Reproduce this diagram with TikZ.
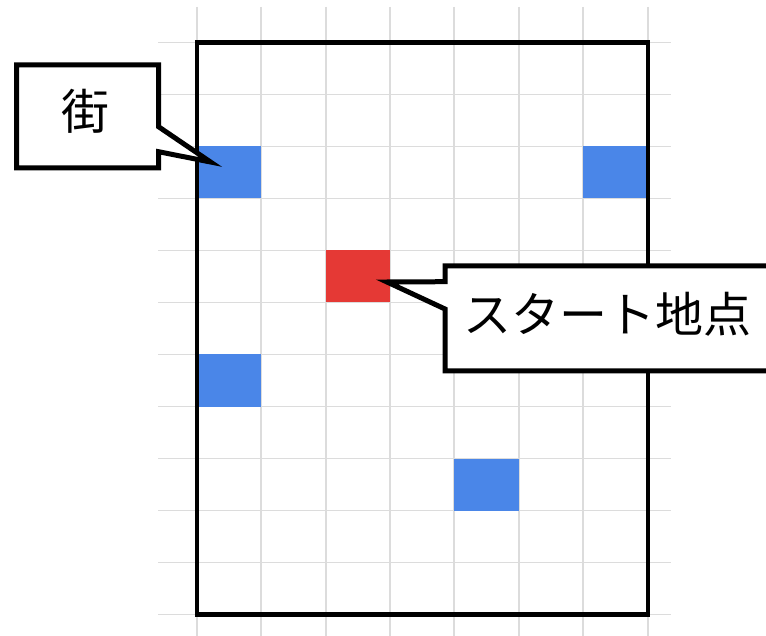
\documentclass[tikz,border=0pt]{standalone}
\usepackage{fontspec}
\newfontfamily\jpfont{Noto Sans CJK JP}
\definecolor{gridgray}{RGB}{220,220,220}
\definecolor{townblue}{RGB}{74,134,232}
\definecolor{startred}{RGB}{229,57,53}
\tikzset{
  gridline/.style={draw=gridgray, line width=1.9pt},
  cellbox/.style={inner sep=0pt, outer sep=0pt, minimum width=64.43pt, minimum height=52pt, draw=none},
  frameline/.style={draw=black, line width=4.4pt, line join=miter},
  calloutline/.style={draw=black, fill=white, line width=5pt, line join=miter},
  labeltext/.style={font=\jpfont\fontsize{48}{52}\selectfont, inner sep=0pt}
}
\begin{document}
\begin{tikzpicture}[x=1pt,y=-1pt]
\useasboundingbox (0,0) rectangle (766,636);
\clip (0,0) rectangle (766,636);
\fill[white] (0,0) rectangle (766,636);
% grid
\foreach \i in {0,...,7} \draw[gridline] ({196.7+64.43*\i},7) -- ({196.7+64.43*\i},636);
\foreach \j in {0,...,11} \draw[gridline] (158,{42.5+52*\j}) -- (671,{42.5+52*\j});
% cells (col, row) centres
\node[cellbox, fill=townblue] (town1) at ({196.7+64.43*0.5},{42.5+52*2.5}) {};
\node[cellbox, fill=townblue] (town2) at ({196.7+64.43*6.5},{42.5+52*2.5}) {};
\node[cellbox, fill=townblue] (town3) at ({196.7+64.43*0.5},{42.5+52*6.5}) {};
\node[cellbox, fill=townblue] (town4) at ({196.7+64.43*4.5},{42.5+52*8.5}) {};
\node[cellbox, fill=startred] (start) at ({196.7+64.43*2.5},{42.5+52*4.5}) {};
% frame
\draw[frameline] (196.7,42.5) rectangle (647.7,614.3);
% callout for town
\draw[calloutline] (16.5,65) -- (158.5,65) -- (158.5,126.7) -- (210.5,162) -- (158.5,151.7) -- (158.5,168) -- (16.5,168) -- cycle;
\node[labeltext] (townlabel) at (85,111) {街};
% callout for start
\draw[calloutline] (445,266) -- (790,266) -- (790,371) -- (445,371) -- (445,309) -- (387,282) -- (445,281.7) -- cycle;
\node[labeltext] (startlabel) at (607.5,314) {スタート地点};
\end{tikzpicture}
\end{document}
